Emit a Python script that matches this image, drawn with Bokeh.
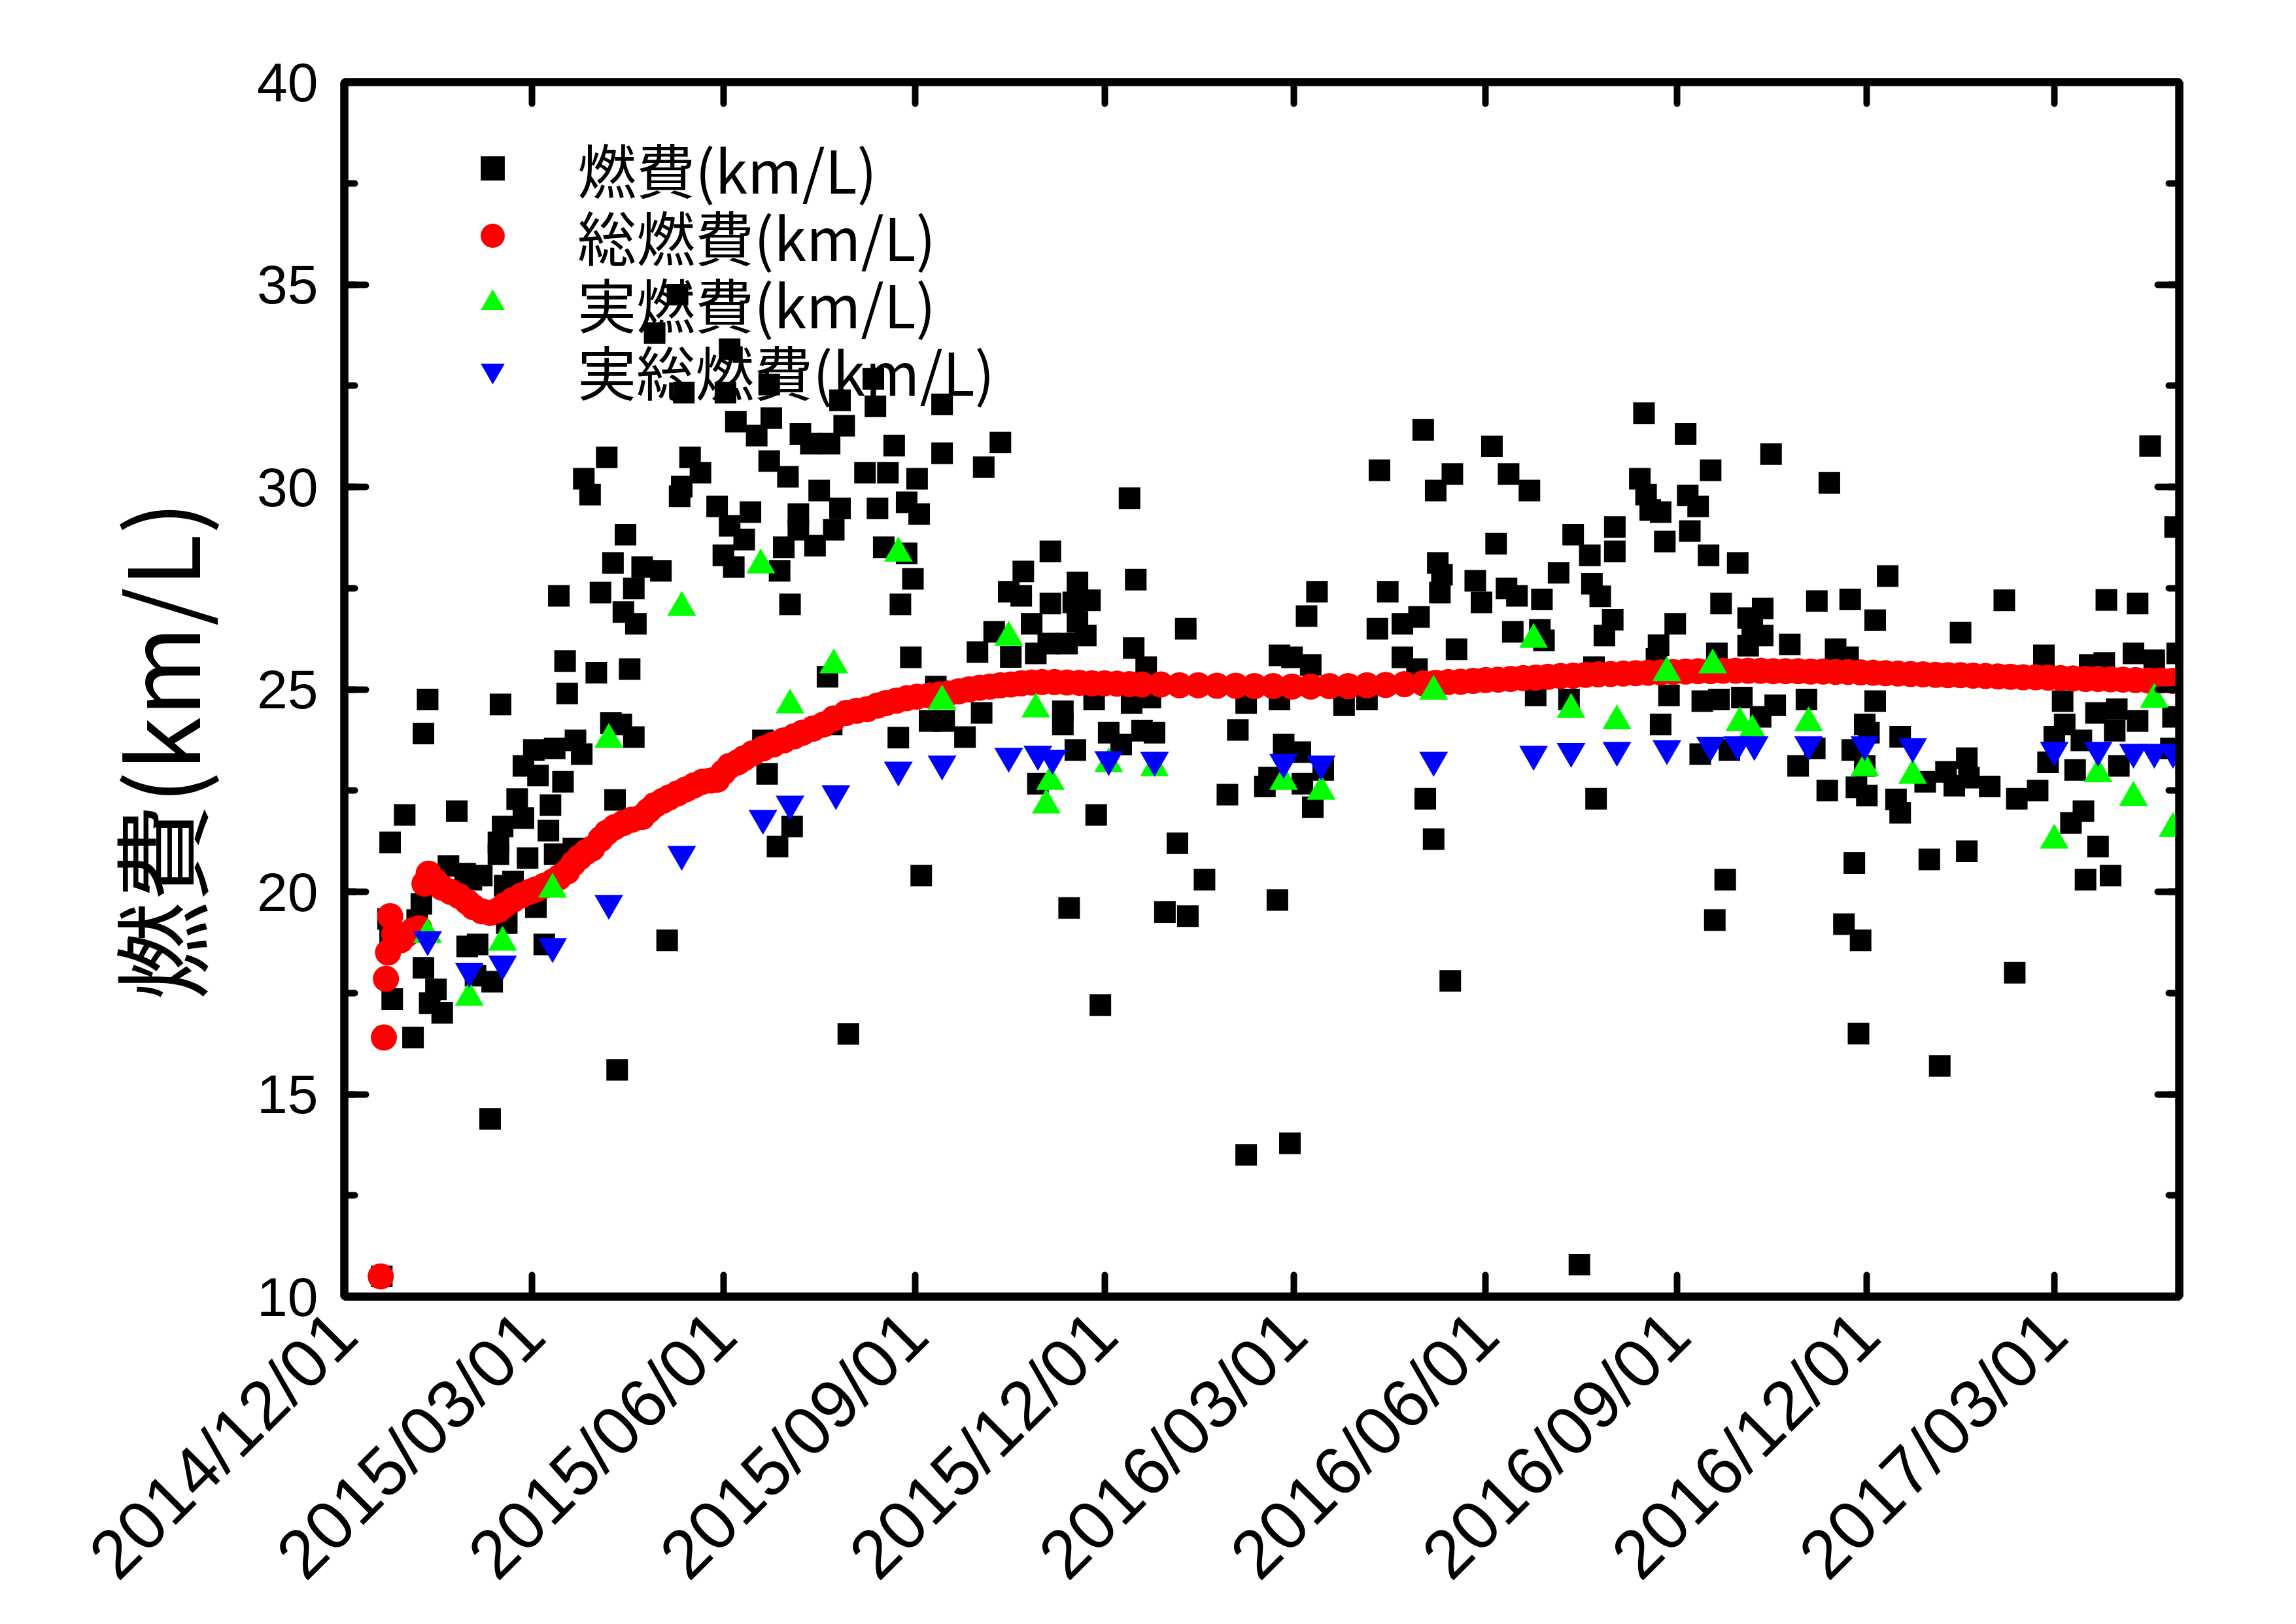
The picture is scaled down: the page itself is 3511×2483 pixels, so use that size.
import numpy as np
import pandas as pd
from bokeh.plotting import figure
from bokeh.models import (Range1d, LinearAxis, FixedTicker, SingleIntervalTicker,
                          DatetimeTickFormatter, CustomJSTickFormatter, Legend, LegendItem,
                          Title, ColumnDataSource)
from bokeh.embed import file_html
from bokeh.resources import INLINE

# ---------------- data ----------------
DAY0 = "2014-12-01"          # day offsets below count from this date
X_SPAN_DAYS = 881            # right end of the x axis (2017-04-30)
Y_MIN, Y_MAX = 10, 40
TICK_DATES = ["2014-12-01", "2015-03-01", "2015-06-01", "2015-09-01", "2015-12-01",
              "2016-03-01", "2016-06-01", "2016-09-01", "2016-12-01", "2017-03-01"]
LEGEND_LABELS = ["燃費(km/L)", "総燃費(km/L)", "実燃費(km/L)", "実総燃費(km/L)"]
Y_TITLE = "燃費(km/L)"

# 燃費(km/L)  (black squares)
fuel_day = [
    160, 149, 185, 183, 163, 204, 254, 255, 238, 287, 188, 205, 198, 219, 224, 240, 233, 264, 287, 204,
    213, 250, 261, 275, 228, 126, 115, 118, 166, 171, 162, 161, 179, 195, 185, 192, 218, 238, 256, 270,
    276, 235, 218, 226, 211, 182, 187, 209, 259, 270, 273, 267, 214, 135, 129, 143, 152, 139, 123, 103,
    134, 140, 106, 121, 137, 107, 272, 232, 284,
    315, 307, 377, 518, 551, 497, 532, 524, 559, 569, 553, 590, 339, 326, 380, 319, 325, 352, 358, 339,
    350, 330, 312, 352, 356, 338, 347, 304, 320, 332, 379, 404, 385, 467, 462, 501, 525, 527, 526, 543,
    546, 558, 563, 575, 583, 516, 508, 496, 534, 508, 515, 561, 574, 576, 449, 455, 464,
    624, 644, 685, 656, 622, 645, 650, 625, 627, 632, 610, 646, 634, 610, 598, 655, 669, 713, 867, 879,
    741, 599, 603, 609, 605, 661, 707, 723, 797, 846, 861, 681, 674, 676, 639, 735, 776, 631, 681, 694,
    674, 716, 722, 659, 600, 630, 816, 838, 845, 859, 869, 880,
    18, 40, 75, 38, 29, 54, 22, 50, 37, 35, 61, 58, 66, 77, 81, 21, 22, 38, 44, 23,
    41, 47, 33, 59, 64, 71, 63, 78, 92, 96, 70, 131, 155, 242, 130, 128, 139, 133, 114, 111,
    101, 91, 86, 93, 105, 83, 99, 86, 76, 98, 74, 74, 88, 101, 110, 201, 203, 215, 208, 266,
    281, 288, 234, 277,
    306, 298, 345, 345, 360, 378, 387, 367, 373, 383, 389, 351, 333, 361, 433, 449, 429, 451, 459, 444,
    442, 460, 465, 470, 480, 491, 424, 400, 413, 348, 394, 405, 448, 363, 433, 454, 519, 523, 531, 572,
    588,
    636, 652, 660, 671, 687, 680, 702, 735, 632, 651, 665, 706, 698, 730, 732, 724, 730, 747, 726, 731,
    712, 745, 747, 759, 769, 773, 779, 780, 790, 803, 813, 825, 826, 821, 818, 834, 831, 841, 851, 850,
    861, 852, 835, 829, 842, 836, 848, 878, 877, 601, 663, 658, 725, 761, 779, 720, 728, 802, 727, 766,
    593,
]
fuel_val = [
    34.75, 33.80, 33.40, 32.33, 32.33, 32.53, 32.67, 31.99, 32.14, 32.04, 31.61, 31.70, 31.27, 31.31, 31.07, 31.51, 31.07, 31.02, 30.83, 30.64,
    30.25, 30.35, 30.35, 30.20, 29.91, 30.73, 30.20, 29.81, 30.73, 30.35, 30.01, 29.77, 29.52, 29.38, 29.04, 28.70, 29.33, 29.47, 29.47, 29.62,
    29.33, 28.94, 28.94, 28.55, 28.51, 28.31, 28.02, 27.93, 28.51, 28.36, 27.73, 27.10, 27.10, 28.82, 28.12, 28.02, 27.93, 27.49, 27.39, 27.31,
    26.91, 26.62, 25.70, 25.41, 25.50, 24.90, 25.79, 25.31, 25.07,
    31.10, 30.49, 29.72, 31.41, 31.00, 30.41, 30.32, 29.91, 30.32, 29.91, 28.60, 28.82, 28.41, 27.91, 27.71, 27.41, 27.31, 27.64, 27.20, 27.12,
    27.15, 26.62, 26.42, 26.67, 26.33, 26.13, 26.13, 25.92, 25.80, 25.89, 26.02, 26.50, 25.55, 27.41, 26.81, 27.41, 28.12, 27.83, 27.39, 27.68,
    27.15, 27.49, 27.31, 27.22, 27.88, 26.79, 26.62, 26.50, 25.99, 25.79, 25.50, 26.42, 26.47, 26.21, 25.84, 25.79, 25.60,
    31.82, 31.31, 30.81, 30.41, 30.20, 29.79, 29.52, 29.81, 29.43, 29.38, 29.01, 28.91, 28.65, 28.41, 28.31, 28.31, 28.12, 30.10, 31.01, 29.01,
    27.80, 27.61, 27.30, 26.72, 26.33, 27.12, 27.18, 27.22, 27.20, 27.21, 27.12, 27.00, 26.76, 26.47, 26.62, 26.71, 26.40, 26.09, 26.33, 26.11,
    26.08, 25.99, 25.79, 25.89, 25.55, 25.75, 25.84, 25.60, 25.65, 25.89, 25.72, 25.89,
    10.50, 24.75, 24.63, 23.91, 21.90, 21.99, 21.22, 20.64, 19.70, 19.30, 20.30, 20.45, 20.40, 20.15, 20.25, 19.33, 19.00, 18.12, 17.59, 17.35,
    17.25, 17.01, 16.40, 18.65, 18.70, 17.78, 17.93, 19.23, 19.62, 18.70, 14.39, 15.60, 18.80, 16.49, 22.27, 24.17, 23.82, 24.13, 23.40, 23.74,
    23.54, 23.50, 23.11, 22.87, 22.72, 22.29, 22.14, 21.82, 21.61, 21.51, 21.22, 20.93, 20.83, 20.93, 21.07, 23.74, 22.91, 21.61, 21.12, 23.81,
    24.22, 24.22, 24.13, 20.40,
    24.42, 23.82, 24.46, 24.13, 24.75, 24.66, 24.80, 23.93, 23.64, 23.98, 23.93, 23.50, 22.67, 21.90, 24.66, 24.75, 24.00, 23.64, 23.45, 22.82,
    22.60, 22.67, 22.09, 23.01, 24.61, 24.75, 22.40, 21.20, 20.30, 19.60, 19.50, 19.40, 19.80, 17.20, 13.50, 13.79, 22.30, 21.30, 17.80, 24.85,
    24.75,
    24.85, 24.71, 24.75, 24.80, 24.61, 24.32, 24.75, 24.71, 24.13, 23.40, 23.50, 23.54, 23.11, 24.13, 23.93, 23.50, 23.11, 23.83, 22.58, 22.38,
    22.50, 22.28, 21.95, 22.72, 22.96, 22.62, 23.30, 22.82, 22.60, 22.30, 22.50, 24.71, 24.13, 23.83, 23.20, 23.74, 23.01, 24.42, 24.51, 23.98,
    24.22, 23.11, 21.99, 21.70, 21.12, 20.30, 20.40, 24.32, 23.54, 22.30, 20.30, 19.30, 20.71, 20.80, 21.00, 19.20, 18.80, 18.00, 16.50, 15.70,
    10.79,
]

# 総燃費(km/L)  (red circles)
total_day = [
    17.5, 19, 20, 21, 22, 24, 27, 30, 33, 36, 38.5, 40.5, 44, 47, 51, 55, 59, 62, 66, 70,
    74, 77, 81, 85, 89, 92, 96, 100, 103, 107, 110, 113, 116, 119, 123, 126, 130, 134, 138, 143,
    146, 149, 153, 156, 160, 164, 168, 172, 176, 179, 182, 185, 189, 192, 196, 201, 206, 211, 216, 220,
    225, 230, 235, 241, 246, 251, 256, 260, 265, 270, 275, 281, 286, 290,
    295, 300, 305, 310, 315, 320, 325, 330, 335, 341, 347, 353, 359, 365, 371, 377, 383, 392, 401, 410,
    419, 428, 437, 446, 455, 464, 473, 482, 491, 500, 509, 518, 524, 530, 536, 542, 548, 554, 560, 566,
    572, 578, 584, 590, 596, 602, 608, 614, 620, 626, 632, 638, 644, 650, 656, 662, 668, 674, 680, 686,
    692, 698, 704, 710, 716, 722, 728, 734, 740, 746, 752, 758, 764, 770, 776, 782, 788, 794, 800, 806,
    812, 818, 824, 830, 836, 842, 848, 854, 860, 866, 872, 878,
]
total_val = [
    10.50, 16.40, 17.85, 18.50, 19.40, 18.95, 18.80, 18.95, 19.05, 19.10, 20.20, 20.45, 20.25, 20.10, 20.00, 19.90, 19.75, 19.62, 19.52, 19.48,
    19.55, 19.67, 19.80, 19.91, 20.00, 20.06, 20.15, 20.25, 20.35, 20.50, 20.70, 20.85, 20.98, 21.07, 21.30, 21.46, 21.60, 21.70, 21.78, 21.85,
    22.00, 22.14, 22.25, 22.33, 22.43, 22.53, 22.63, 22.72, 22.75, 22.77, 22.95, 23.11, 23.20, 23.30, 23.42, 23.54, 23.64, 23.74, 23.84, 23.93,
    24.03, 24.13, 24.28, 24.42, 24.47, 24.51, 24.60, 24.66, 24.72, 24.78, 24.82, 24.85, 24.88, 24.90,
    24.95, 25.00, 25.04, 25.07, 25.10, 25.12, 25.15, 25.17, 25.18, 25.18, 25.17, 25.16, 25.15, 25.15, 25.14, 25.13, 25.12, 25.12, 25.10, 25.10,
    25.09, 25.09, 25.08, 25.08, 25.07, 25.07, 25.08, 25.08, 25.10, 25.11, 25.13, 25.15, 25.16, 25.18, 25.19, 25.21, 25.23, 25.24, 25.26, 25.28,
    25.29, 25.31, 25.33, 25.34, 25.36, 25.37, 25.38, 25.39, 25.40, 25.41, 25.42, 25.43, 25.44, 25.45, 25.45, 25.46, 25.46, 25.46, 25.46, 25.45,
    25.45, 25.45, 25.44, 25.44, 25.43, 25.43, 25.42, 25.41, 25.40, 25.39, 25.38, 25.37, 25.36, 25.35, 25.35, 25.34, 25.33, 25.32, 25.31, 25.30,
    25.30, 25.29, 25.28, 25.27, 25.26, 25.26, 25.25, 25.24, 25.23, 25.22, 25.22, 25.21,
]

# 実燃費(km/L)  (green triangles)
real_day = [40, 60, 76, 100, 127, 162, 200, 214, 235, 266, 287, 319, 332, 339, 337, 367, 389, 451,
            469, 523, 571, 589, 611, 635, 657, 670, 676, 703, 730, 753, 821, 842, 859, 869, 878]
real_val = [18.94, 17.39, 18.75, 20.06, 23.76, 27.02, 28.07, 24.61, 25.60, 28.36, 24.71, 26.28, 24.51,
            22.72, 22.14, 23.16, 23.06, 22.72, 22.48, 24.95, 26.23, 24.50, 24.22, 25.41, 25.60, 24.17,
            23.98, 24.17, 23.06, 22.87, 21.27, 22.91, 22.33, 24.75, 21.56]

# 実総燃費(km/L)  (blue inverted triangles)
realtot_day = [40, 60, 76, 100, 127, 162, 201, 214, 236, 266, 287, 319, 333, 340, 367, 389, 451, 469,
               523, 571, 589, 611, 635, 656, 669, 677, 703, 730, 753, 821, 842, 859, 869, 878]
realtot_val = [18.82, 18.04, 18.22, 18.65, 19.72, 20.93, 21.82, 22.17, 22.43, 23.01, 23.16, 23.35, 23.40,
               23.30, 23.27, 23.25, 23.20, 23.16, 23.25, 23.40, 23.47, 23.50, 23.54, 23.62, 23.64, 23.64,
               23.64, 23.64, 23.59, 23.50, 23.50, 23.45, 23.45, 23.45]

# ---------------- helpers ----------------
T0 = pd.Timestamp(DAY0)


def to_dates(days):
    return T0 + pd.to_timedelta(np.asarray(days, dtype=float), unit="D")


def ms(ts):
    return pd.Timestamp(ts).value / 1e6


FONT_NUM = "Liberation Sans"
FONT_CJK = "Noto Sans CJK JP"

p = figure(width=3511, height=2483, output_backend="svg", toolbar_location=None,
           x_axis_type=None, y_axis_type=None,
           x_range=Range1d(start=T0, end=T0 + pd.Timedelta(days=X_SPAN_DAYS)),
           y_range=Range1d(Y_MIN, Y_MAX),
           min_border_left=526, min_border_right=179, min_border_top=125, min_border_bottom=501)
p.background_fill_color = "white"
p.border_fill_color = "white"
p.outline_line_color = "black"
p.outline_line_width = 12

xticker = FixedTicker(ticks=[ms(d) for d in TICK_DATES], minor_ticks=[])
yticker = SingleIntervalTicker(interval=5, num_minor_ticks=2)
fmt = "%Y/%m/%d"
xfmt = DatetimeTickFormatter(milliseconds=fmt, seconds=fmt, minsec=fmt, minutes=fmt, hourmin=fmt,
                             hours=fmt, days=fmt, months=fmt, years=fmt)
blank = CustomJSTickFormatter(code="return '';")


def style_axis(ax):
    ax.axis_line_width = 12
    ax.axis_line_color = "black"
    ax.major_tick_in = 33
    ax.major_tick_out = 0
    ax.minor_tick_in = 16
    ax.minor_tick_out = 0
    ax.major_tick_line_width = 10
    ax.minor_tick_line_width = 10
    ax.major_tick_line_color = "black"
    ax.minor_tick_line_color = "black"
    ax.major_tick_line_cap = "round"
    ax.minor_tick_line_cap = "round"
    ax.major_label_text_color = "black"
    ax.major_label_text_font = FONT_NUM


bottom = LinearAxis(ticker=xticker, formatter=xfmt)
style_axis(bottom)
bottom.major_label_orientation = np.pi / 4
bottom.major_label_text_font_size = "105px"
bottom.major_label_standoff = 40
p.add_layout(bottom, "below")

top = LinearAxis(ticker=xticker, formatter=blank)
style_axis(top)
top.major_label_text_font_size = "1px"
p.add_layout(top, "above")

left = LinearAxis(ticker=yticker)
style_axis(left)
left.major_label_text_font_size = "84px"
left.major_label_standoff = 40
p.add_layout(left, "left")

right = LinearAxis(ticker=yticker, formatter=blank)
style_axis(right)
right.major_label_text_font_size = "1px"
p.add_layout(right, "right")

ytitle = Title(text=Y_TITLE, align="left", offset=453, standoff=84,
               text_font=FONT_CJK, text_font_size="150px", text_font_style="normal",
               text_color="black")
p.add_layout(ytitle, "left")

p.xgrid.visible = False
p.ygrid.visible = False

src_fuel = ColumnDataSource(dict(x=to_dates(fuel_day), y=fuel_val))
src_total = ColumnDataSource(dict(x=to_dates(total_day), y=total_val))
src_real = ColumnDataSource(dict(x=to_dates(real_day), y=real_val))
src_realtot = ColumnDataSource(dict(x=to_dates(realtot_day), y=realtot_val))

r_fuel = p.scatter("x", "y", source=src_fuel, marker="square", size=33,
                   fill_color="black", line_color=None)
r_total = p.scatter("x", "y", source=src_total, marker="circle", size=40,
                    fill_color="#ff0000", line_color=None)
r_real = p.scatter("x", "y", source=src_real, marker="triangle", size=44,
                   fill_color="#00ff00", line_color=None)
r_realtot = p.scatter("x", "y", source=src_realtot, marker="inverted_triangle", size=44,
                      fill_color="#0000ff", line_color=None)

# one legend box per entry so that the row pitch matches the reference
legend_rows = [(LEGEND_LABELS[0], r_fuel, 1660), (LEGEND_LABELS[1], r_total, 1557),
               (LEGEND_LABELS[2], r_real, 1454), (LEGEND_LABELS[3], r_realtot, 1351)]
for lab, rend, ypos in legend_rows:
    lg = Legend(items=[LegendItem(label=lab, renderers=[rend])],
                location=(181, ypos), orientation="vertical",
                glyph_width=92, glyph_height=92, label_standoff=84, spacing=0,
                padding=0, margin=0, border_line_alpha=0, background_fill_alpha=0,
                label_text_font=FONT_CJK, label_text_font_size="90px",
                label_text_color="black")
    p.add_layout(lg, "center")

open("out.html", "w").write(file_html(p, INLINE))
